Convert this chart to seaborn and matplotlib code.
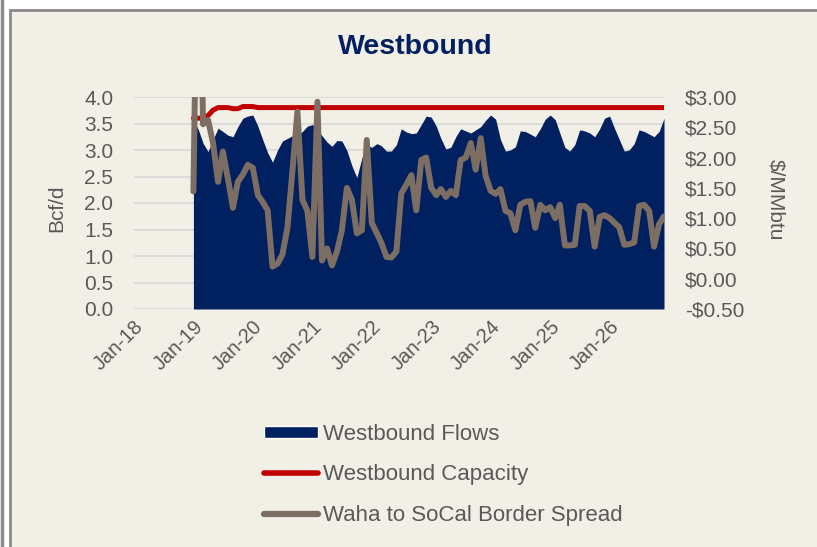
import numpy as np
import pandas as pd
import matplotlib.pyplot as plt
import matplotlib.dates as mdates
from matplotlib.patches import Patch, Rectangle
from matplotlib.lines import Line2D
from matplotlib.ticker import FuncFormatter, MultipleLocator
import seaborn as sns

# monthly series, Jan-19 .. Dec-26
months = pd.date_range("2019-01-01", "2026-12-01", freq="MS")

# Bcf/d
flows = [
    3.57, 3.38, 3.13, 2.97, 3.19, 3.41, 3.35, 3.28, 3.25, 3.44, 3.60, 3.64,  # 2019
    3.66, 3.45, 3.20, 2.95, 2.77, 3.00, 3.17, 3.22, 3.27, 3.28, 3.35, 3.45,  # 2020
    3.48, 3.38, 3.27, 3.15, 3.07, 3.18, 3.17, 2.99, 2.70, 2.48, 2.85, 3.10,  # 2021
    3.05, 3.12, 3.08, 2.98, 2.98, 3.10, 3.40, 3.34, 3.31, 3.32, 3.48, 3.64,  # 2022
    3.62, 3.45, 3.22, 3.02, 3.05, 3.25, 3.40, 3.36, 3.32, 3.38, 3.44, 3.56,  # 2023
    3.66, 3.58, 3.20, 2.98, 3.00, 3.06, 3.36, 3.35, 3.30, 3.25, 3.40, 3.58,  # 2024
    3.66, 3.57, 3.32, 3.05, 2.98, 3.10, 3.38, 3.36, 3.32, 3.25, 3.40, 3.60,  # 2025
    3.64, 3.40, 3.20, 2.98, 3.00, 3.12, 3.38, 3.35, 3.30, 3.25, 3.35, 3.60,  # 2026
]
capacity = [
    3.60, 3.60, 3.60, 3.65, 3.75, 3.80, 3.80, 3.80, 3.78, 3.78, 3.82, 3.82,
    3.82, 3.80, 3.80, 3.80, 3.80, 3.80, 3.80, 3.80, 3.80, 3.80, 3.80, 3.80,
    3.80, 3.80, 3.80, 3.80, 3.80, 3.80, 3.80, 3.80, 3.80, 3.80, 3.80, 3.80,
    3.80, 3.80, 3.80, 3.80, 3.80, 3.80, 3.80, 3.80, 3.80, 3.80, 3.80, 3.80,
    3.80, 3.80, 3.80, 3.80, 3.80, 3.80, 3.80, 3.80, 3.80, 3.80, 3.80, 3.80,
    3.80, 3.80, 3.80, 3.80, 3.80, 3.80, 3.80, 3.80, 3.80, 3.80, 3.80, 3.80,
    3.80, 3.80, 3.80, 3.80, 3.80, 3.80, 3.80, 3.80, 3.80, 3.80, 3.80, 3.80,
    3.80, 3.80, 3.80, 3.80, 3.80, 3.80, 3.80, 3.80, 3.80, 3.80, 3.80, 3.80,
]
# $/MMbtu
spread = [
    1.44, 7.00, 2.55, 2.62, 2.25, 1.60, 2.10, 1.65, 1.17, 1.60, 1.72, 1.88,
    1.83, 1.38, 1.27, 1.13, 0.20, 0.25, 0.40, 0.85, 1.80, 2.76, 1.30, 1.12,
    0.36, 2.92, 0.30, 0.50, 0.22, 0.45, 0.80, 1.50, 1.30, 0.75, 0.80, 2.29,
    0.92, 0.75, 0.59, 0.36, 0.35, 0.45, 1.41, 1.55, 1.71, 1.13, 1.96, 2.00,
    1.50, 1.38, 1.48, 1.35, 1.45, 1.38, 1.96, 2.00, 2.24, 1.80, 2.32, 1.70,
    1.45, 1.40, 1.48, 1.12, 1.08, 0.80, 1.22, 1.27, 1.28, 0.84, 1.22, 1.13,
    1.18, 1.00, 1.22, 0.55, 0.55, 0.56, 1.20, 1.20, 1.12, 0.53, 1.02, 1.05,
    1.00, 0.92, 0.85, 0.56, 0.57, 0.60, 1.20, 1.22, 1.12, 0.53, 0.90, 1.03,
]
year_ticks = pd.date_range("2018-01-01", "2026-01-01", freq="YS")

df = pd.DataFrame({
    "month": months,
    "Westbound Flows": flows,
    "Westbound Capacity": capacity,
    "Waha to SoCal Border Spread": spread,
})

sns.set_theme(style="white")
plt.rcParams["font.family"] = ["Liberation Sans", "DejaVu Sans"]

navy = "#002060"
red = "#C00000"
taupe = "#7D6E63"
cream = "#F2EFE6"
txt = "#595959"
W, H = 817, 547

fig = plt.figure(figsize=(W / 100, H / 100), dpi=100, facecolor="white")
# panel + frame lines
fig.add_artist(Rectangle((9.5 / W, -0.1), 1.2, 1.1 - 9.5 / H, transform=fig.transFigure,
                         facecolor=cream, edgecolor="#8A8A8A", lw=2, zorder=0))
fig.add_artist(Line2D([2 / W, 2 / W], [0, 1], transform=fig.transFigure, color="#8A8A8A", lw=2.5))

ax = fig.add_axes([134 / W, 1 - 309 / H, 530 / W, 212 / H])
ax.set_facecolor("none")
ax.fill_between(df["month"], 0, df["Westbound Flows"], color=navy, lw=0, zorder=2)
sns.lineplot(data=df, x="month", y="Westbound Capacity", ax=ax, color=red, lw=3.6,
             solid_capstyle="round", zorder=3)
ax.set_ylim(0, 4)
ax.set_xlim(pd.Timestamp("2018-01-01"), pd.Timestamp("2026-12-01"))
ax.yaxis.set_major_locator(MultipleLocator(0.5))
ax.yaxis.set_major_formatter(FuncFormatter(lambda v, p: f"{v:.1f}"))
ax.set_xticks(year_ticks)
ax.xaxis.set_major_formatter(mdates.DateFormatter("%b-%y"))
ax.yaxis.grid(True, color="#D9D9D9", lw=1.3)
ax.set_axisbelow(True)
ax.set_xlabel("")
ax.set_ylabel("")
ax.tick_params(length=0, labelsize=15, labelcolor=txt)
ax.tick_params(axis="y", pad=15)
ax.tick_params(axis="x", pad=6, labelsize=14.5)
for lab in ax.get_xticklabels():
    lab.set_rotation(45)
    lab.set_ha("right")
    lab.set_rotation_mode("anchor")

ax2 = ax.twinx()
sns.lineplot(data=df, x="month", y="Waha to SoCal Border Spread", ax=ax2, color=taupe, lw=4.3,
             solid_capstyle="round")
ax2.set_ylim(-0.5, 3.0)
ax2.yaxis.set_major_locator(MultipleLocator(0.5))
ax2.yaxis.set_major_formatter(FuncFormatter(lambda v, p: f"-${abs(v):.2f}" if v < 0 else f"${v:.2f}"))
ax2.set_xlabel("")
ax2.set_ylabel("")
ax2.tick_params(length=0, labelsize=15, labelcolor=txt, pad=15)

for a in (ax, ax2):
    for s in a.spines.values():
        s.set_visible(False)

fig.text(415 / W, 1 - 47 / H, "Westbound", ha="center", va="center", fontsize=20.5,
         fontweight="bold", color=navy)
fig.text(57 / W, 1 - 208 / H, "Bcf/d", rotation=90, ha="center", va="center", fontsize=15, color=txt)
fig.text(776 / W, 1 - 200 / H, "$/MMbtu", rotation=270, ha="center", va="center", fontsize=15, color=txt)

handles = [
    Patch(facecolor=navy, label="Westbound Flows"),
    Line2D([], [], color=red, lw=4, solid_capstyle="round", label="Westbound Capacity"),
    Line2D([], [], color=taupe, lw=4.5, solid_capstyle="round", label="Waha to SoCal Border Spread"),
]
fig.legend(handles=handles, loc="upper left", bbox_to_anchor=(255 / W, 1 - 415 / H),
           frameon=False, fontsize=16, labelcolor=txt, handlelength=2.45, handleheight=0.5,
           handletextpad=0.2, labelspacing=0.88, borderaxespad=0)

fig.savefig("out.png", dpi=100, facecolor="white")
